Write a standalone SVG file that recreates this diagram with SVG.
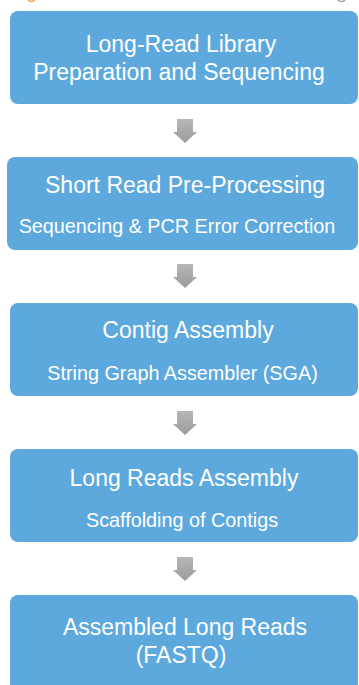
<svg xmlns="http://www.w3.org/2000/svg" width="359" height="685" viewBox="0 0 359 685">
  <defs>
    <linearGradient id="arrowFill" x1="0" y1="0" x2="0" y2="1">
      <stop offset="0" stop-color="#b6b6b6"/>
      <stop offset="1" stop-color="#9c9c9c"/>
    </linearGradient>
    <!-- block down-arrow, origin at top-centre -->
    <path id="downArrow" d="M-8,0 H8 V13 H12 L0,24 L-12,13 H-8 Z"/>
  </defs>
  <style>
    .box { fill: #5da9de; }
    .title { font-family: "Liberation Sans", Arial, sans-serif; font-size: 23px; fill: #ffffff; text-anchor: middle; }
    .sub { font-family: "Liberation Sans", Arial, sans-serif; font-size: 19.8px; fill: #ffffff; text-anchor: middle; }
    .arrow { fill: url(#arrowFill); }
  </style>

  <rect width="359" height="685" fill="#ffffff"/>

  <!-- edge fragments of the caption row above -->
  <path d="M28,0 Q31.5,3 35,0" fill="none" stroke="#f2a33a" stroke-width="1.4"/>
  <path d="M338,0 Q341.5,3 345,0" fill="none" stroke="#8a8a8a" stroke-width="1.2"/>

  <g id="connectors">
    <use href="#downArrow" class="arrow" x="185" y="119"/>
    <use href="#downArrow" class="arrow" x="185" y="264"/>
    <use href="#downArrow" class="arrow" x="185" y="411"/>
    <use href="#downArrow" class="arrow" x="185" y="557"/>
  </g>

  <g id="library-prep">
    <rect class="box" x="10" y="11" width="348" height="93" rx="8"/>
    <text class="title" x="181" y="52">Long-Read Library</text>
    <text class="title" x="179" y="80">Preparation and Sequencing</text>
  </g>

  <g id="short-read-preprocessing">
    <rect class="box" x="7" y="157" width="351" height="93" rx="8"/>
    <text class="title" x="185" y="193">Short Read Pre-Processing</text>
    <text class="sub" x="177" y="233">Sequencing &amp; PCR Error Correction</text>
  </g>

  <g id="contig-assembly">
    <rect class="box" x="10" y="303" width="348" height="93" rx="8"/>
    <text class="title" x="188" y="338">Contig Assembly</text>
    <text class="sub" x="182.5" y="380">String Graph Assembler (SGA)</text>
  </g>

  <g id="long-reads-assembly">
    <rect class="box" x="10" y="449" width="348" height="93" rx="8"/>
    <text class="title" x="184" y="486">Long Reads Assembly</text>
    <text class="sub" x="182" y="527">Scaffolding of Contigs</text>
  </g>

  <g id="assembled-long-reads">
    <rect class="box" x="10" y="595" width="348" height="110" rx="8"/>
    <text class="title" x="185" y="635">Assembled Long Reads</text>
    <text class="title" x="181" y="663">(FASTQ)</text>
  </g>
</svg>
